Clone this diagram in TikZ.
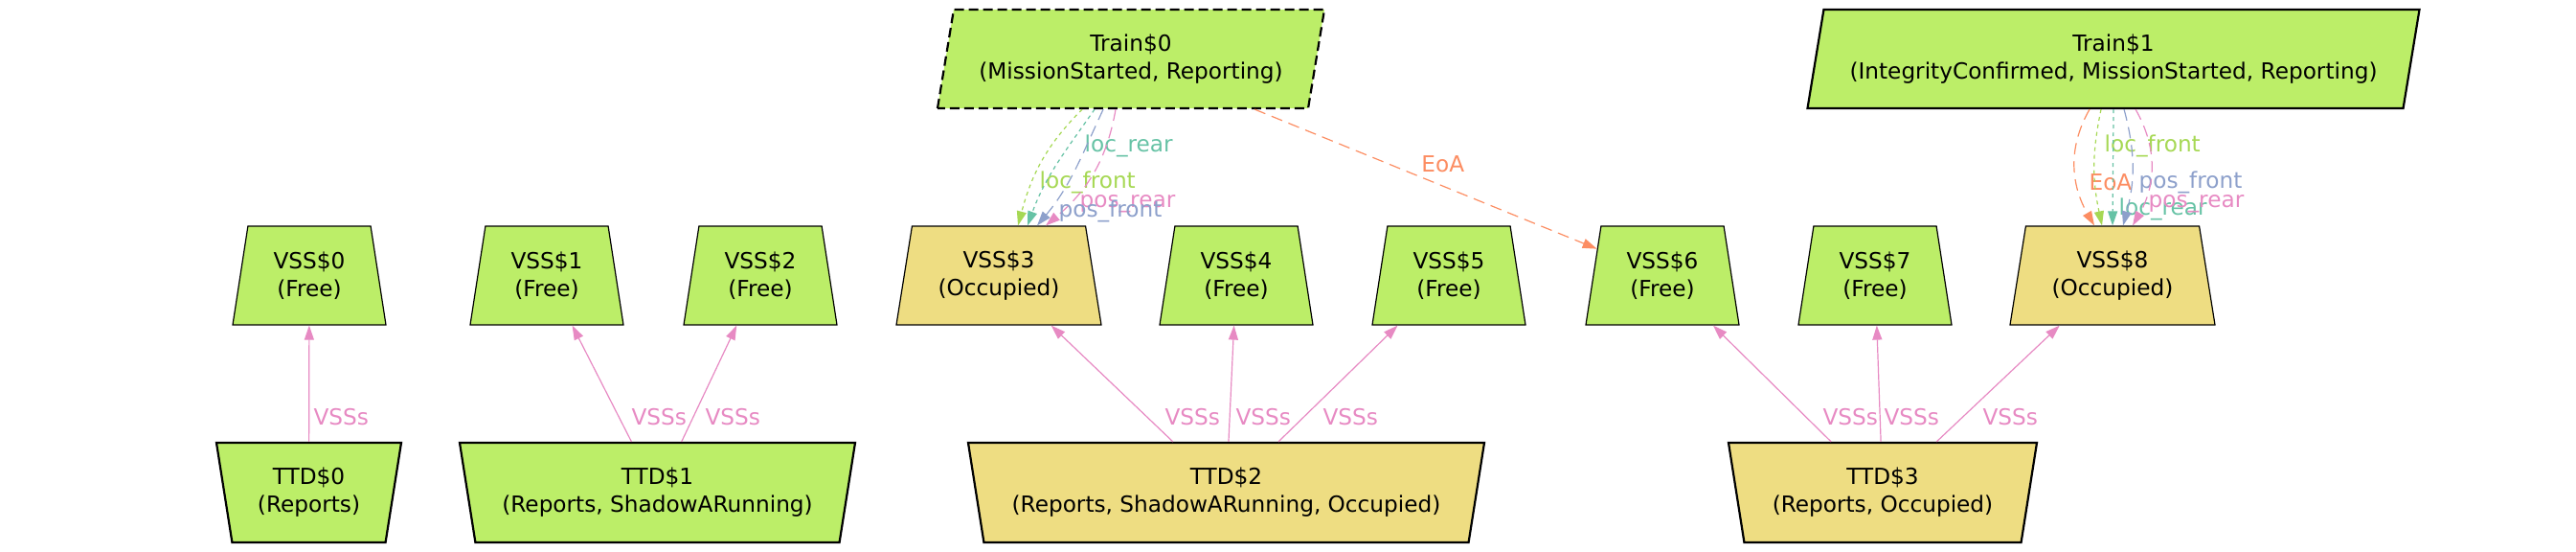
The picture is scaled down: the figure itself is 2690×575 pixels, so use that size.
\documentclass[tikz,border=0pt]{standalone}
\usepackage{fontspec}
\setmainfont{DejaVu Sans}
\usetikzlibrary{arrows.meta,shapes.geometric}
\definecolor{vfree}{HTML}{BCEE68}
\definecolor{vocc}{HTML}{EEDD82}
\definecolor{cteal}{HTML}{66C2A5}
\definecolor{corange}{HTML}{FC8D62}
\definecolor{cblue}{HTML}{8DA0CB}
\definecolor{cpink}{HTML}{E78AC3}
\definecolor{cgreen}{HTML}{A6D854}
\tikzset{x=.5pt,y=.5pt,
shp/.style={trapezium,trapezium stretches body,draw,align=center,inner sep=1pt,font=\fontsize{11.6}{14.5}\selectfont},
vss/.style={shp,trapezium left angle=73.5,trapezium right angle=73.5,line width=.6pt,fill=vfree,minimum width=80pt,minimum height=51.5pt},
vssocc/.style={vss,fill=vocc,minimum width=107pt},
ttd/.style={shp,trapezium left angle=106.5,trapezium right angle=106.5,line width=1.1pt,minimum height=52pt},
train/.style={shp,trapezium left angle=73,trapezium right angle=107,line width=1.1pt,fill=vfree,minimum height=51.5pt},
arr/.style={-{Triangle[length=7.5pt,width=5pt]},line width=.6pt},
lbl/.style={inner sep=0pt,anchor=west,font=\fontsize{11.6}{14.5}\selectfont},
dotline/.style={dash pattern=on 2pt off 2pt},
dashline/.style={dash pattern=on 6pt off 3.5pt}}
\begin{document}
\begin{tikzpicture}
\useasboundingbox (0,0) rectangle (2690,-575);
\node[train,dash pattern=on 5pt off 2.5pt,minimum width=202pt] (train0) at (1181,-61.5) {Train\$0\\(MissionStarted, Reporting)};
\node[train,minimum width=319.5pt] (train1) at (2207,-61.5) {Train\$1\\(IntegrityConfirmed, MissionStarted, Reporting)};
\node[vss] (vss0) at (323,-287.5) {VSS\$0\\(Free)};\node[vss] (vss1) at (571,-287.5) {VSS\$1\\(Free)};\node[vss] (vss2) at (794,-287.5) {VSS\$2\\(Free)};
\node[vssocc] (vss3) at (1043,-287.5) {VSS\$3\\(Occupied)};\node[vss] (vss4) at (1291,-287.5) {VSS\$4\\(Free)};\node[vss] (vss5) at (1513,-287.5) {VSS\$5\\(Free)};
\node[vss] (vss6) at (1736,-287.5) {VSS\$6\\(Free)};\node[vss] (vss7) at (1958,-287.5) {VSS\$7\\(Free)};\node[vssocc] (vss8) at (2206,-287.5) {VSS\$8\\(Occupied)};
\node[ttd,fill=vfree,minimum width=96.5pt] (ttd0) at (322.5,-514) {TTD\$0\\(Reports)};
\node[ttd,fill=vfree,minimum width=206.5pt] (ttd1) at (686.5,-514) {TTD\$1\\(Reports, ShadowARunning)};
\node[ttd,fill=vocc,minimum width=269.5pt] (ttd2) at (1280.5,-514) {TTD\$2\\(Reports, ShadowARunning, Occupied)};
\node[ttd,fill=vocc,minimum width=161pt] (ttd3) at (1966,-514) {TTD\$3\\(Reports, Occupied)};
\foreach \a/\b/\lx in {ttd0/vss0/327,ttd1/vss1/659,ttd1/vss2/736,ttd2/vss3/1216,ttd2/vss4/1290,ttd2/vss5/1381,ttd3/vss6/1903,ttd3/vss7/1967,ttd3/vss8/2070}
  \draw[arr,cpink] (\a) -- (\b) node[lbl,at={(\lx,-435)}] {VSSs};
\draw[arr,corange,dashline] (train0) -- node[lbl,anchor=center,pos=.55,yshift=11.5pt] {EoA} (vss6);
\draw[arr,cgreen,dotline] ([xshift=-25.5pt]train0.south) to[out=-135,in=75] ([xshift=10pt]vss3.north) node[lbl,at={(1085,-190)}] {loc\_front};
\draw[arr,cteal,dotline] ([xshift=-19pt]train0.south) to[out=-125,in=70] ([xshift=15pt]vss3.north) node[lbl,at={(1132,-152)}] {loc\_rear};
\draw[arr,cpink,dashline] ([xshift=-8pt]train0.south) to[out=-100,in=40] ([xshift=24.5pt]vss3.north) node[lbl,at={(1127,-213)}] {pos\_rear};
\draw[arr,cblue,dashline] ([xshift=-14.5pt]train0.south) to[out=-115,in=50] ([xshift=20pt]vss3.north) node[lbl,at={(1105,-220)}] {pos\_front};
\draw[arr,corange,dashline] ([xshift=-12.5pt]train1.south) to[out=-120,in=120] ([xshift=-9.5pt]vss8.north) node[lbl,at={(2181,-190)}] {EoA};
\draw[arr,cgreen,dotline] ([xshift=-6.5pt]train1.south) to[out=-102,in=102] ([xshift=-5.5pt]vss8.north) node[lbl,at={(2197,-152)}] {loc\_front};
\draw[arr,cteal,dotline] (train1.south) -- (vss8.north) node[lbl,at={(2212,-218)}] {loc\_rear};
\draw[arr,cblue,dashline] ([xshift=5.5pt]train1.south) to[out=-75,in=75] ([xshift=5.5pt]vss8.north) node[lbl,at={(2233,-190)}] {pos\_front};
\draw[arr,cpink,dashline] ([xshift=11.5pt]train1.south) to[out=-60,in=60] ([xshift=10.5pt]vss8.north) node[lbl,at={(2243,-213)}] {pos\_rear};
\end{tikzpicture}
\end{document}
